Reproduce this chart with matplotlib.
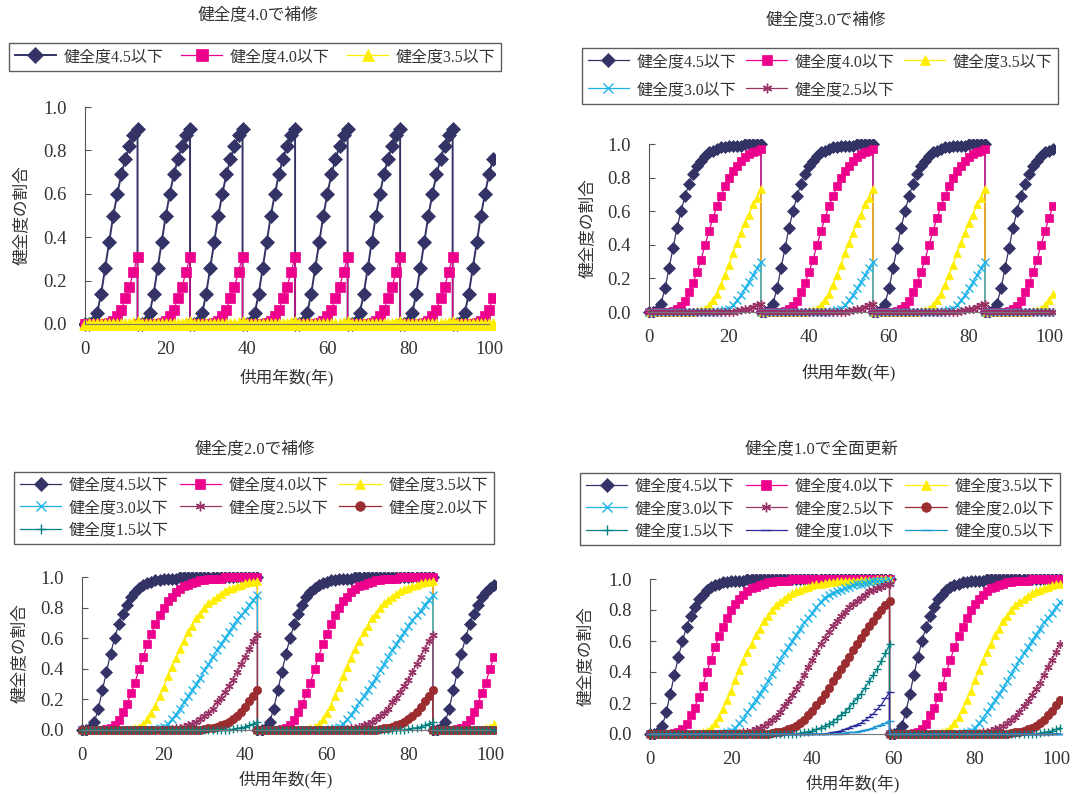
import numpy as np
import matplotlib
matplotlib.use("Agg")
import matplotlib.pyplot as plt

plt.rcParams['font.family'] = ['Liberation Serif', 'Noto Sans CJK JP']

# share of members at or below each grade, year 0..59 after a repair
g45 = [0, 0, 0.01, 0.05, 0.14, 0.26, 0.38, 0.50, 0.60, 0.69,
       0.76, 0.82, 0.87, 0.90, 0.93, 0.95, 0.96, 0.97, 0.98, 0.98,
       0.99, 0.99, 0.99, 0.99, 1.0, 1.0, 1.0, 1.0, 1.0, 1.0,
       1.0, 1.0, 1.0, 1.0, 1.0, 1.0, 1.0, 1.0, 1.0, 1.0,
       1.0, 1.0, 1.0, 1.0, 1.0, 1.0, 1.0, 1.0, 1.0, 1.0,
       1.0, 1.0, 1.0, 1.0, 1.0, 1.0, 1.0, 1.0, 1.0, 1.0]
g40 = [0, 0, 0, 0, 0, 0.002, 0.005, 0.015, 0.035, 0.065,
       0.12, 0.17, 0.24, 0.31, 0.40, 0.48, 0.56, 0.63, 0.69, 0.75,
       0.80, 0.84, 0.87, 0.90, 0.92, 0.94, 0.95, 0.96, 0.97, 0.98,
       0.98, 0.99, 0.99, 0.99, 0.99, 1.0, 1.0, 1.0, 1.0, 1.0,
       1.0, 1.0, 1.0, 1.0, 1.0, 1.0, 1.0, 1.0, 1.0, 1.0,
       1.0, 1.0, 1.0, 1.0, 1.0, 1.0, 1.0, 1.0, 1.0, 1.0]
g35 = [0, 0, 0, 0, 0, 0, 0, 0, 0, 0,
       0, 0, 0.005, 0.01, 0.02, 0.04, 0.07, 0.11, 0.16, 0.22,
       0.28, 0.35, 0.41, 0.47, 0.53, 0.58, 0.64, 0.68, 0.73, 0.76,
       0.80, 0.83, 0.85, 0.87, 0.89, 0.91, 0.92, 0.93, 0.94, 0.95,
       0.96, 0.965, 0.97, 0.975, 0.98, 0.98, 0.985, 0.985, 0.99, 0.99,
       0.99, 0.99, 0.995, 0.995, 0.995, 0.995, 1.0, 1.0, 1.0, 1.0]
g30 = [0, 0, 0, 0, 0, 0, 0, 0, 0, 0,
       0, 0, 0, 0, 0, 0, 0, 0, 0.005, 0.01,
       0.02, 0.04, 0.07, 0.10, 0.14, 0.18, 0.22, 0.26, 0.30, 0.34,
       0.39, 0.43, 0.48, 0.52, 0.56, 0.60, 0.64, 0.68, 0.72, 0.75,
       0.78, 0.82, 0.85, 0.88, 0.90, 0.91, 0.92, 0.93, 0.94, 0.95,
       0.96, 0.965, 0.97, 0.975, 0.98, 0.985, 0.99, 0.99, 0.99, 0.995]
g25 = [0, 0, 0, 0, 0, 0, 0, 0, 0, 0,
       0, 0, 0, 0, 0, 0, 0, 0, 0, 0,
       0, 0, 0.005, 0.01, 0.015, 0.02, 0.03, 0.04, 0.05, 0.07,
       0.09, 0.11, 0.14, 0.18, 0.21, 0.25, 0.29, 0.33, 0.38, 0.43,
       0.48, 0.53, 0.58, 0.62, 0.66, 0.70, 0.73, 0.76, 0.79, 0.82,
       0.84, 0.86, 0.88, 0.90, 0.92, 0.93, 0.94, 0.95, 0.96, 0.97]
g20 = [0, 0, 0, 0, 0, 0, 0, 0, 0, 0,
       0, 0, 0, 0, 0, 0, 0, 0, 0, 0,
       0, 0, 0, 0, 0, 0, 0, 0, 0, 0,
       0.005, 0.01, 0.015, 0.02, 0.03, 0.04, 0.05, 0.07, 0.09, 0.12,
       0.15, 0.19, 0.22, 0.26, 0.30, 0.34, 0.38, 0.42, 0.46, 0.50,
       0.54, 0.58, 0.62, 0.66, 0.70, 0.73, 0.77, 0.80, 0.83, 0.86]
g15 = [0, 0, 0, 0, 0, 0, 0, 0, 0, 0,
       0, 0, 0, 0, 0, 0, 0, 0, 0, 0,
       0, 0, 0, 0, 0, 0, 0, 0, 0, 0,
       0, 0, 0, 0, 0, 0, 0, 0.005, 0.01, 0.015,
       0.02, 0.03, 0.04, 0.05, 0.065, 0.08, 0.10, 0.12, 0.14, 0.17,
       0.20, 0.23, 0.26, 0.30, 0.34, 0.38, 0.42, 0.47, 0.52, 0.58]
g10 = [0, 0, 0, 0, 0, 0, 0, 0, 0, 0,
       0, 0, 0, 0, 0, 0, 0, 0, 0, 0,
       0, 0, 0, 0, 0, 0, 0, 0, 0, 0,
       0, 0, 0, 0, 0, 0, 0, 0, 0, 0,
       0, 0, 0, 0, 0.005, 0.01, 0.015, 0.02, 0.03, 0.04,
       0.05, 0.06, 0.07, 0.09, 0.11, 0.13, 0.16, 0.19, 0.23, 0.27]
g05 = [0, 0, 0, 0, 0, 0, 0, 0, 0, 0,
       0, 0, 0, 0, 0, 0, 0, 0, 0, 0,
       0, 0, 0, 0, 0, 0, 0, 0, 0, 0,
       0, 0, 0, 0, 0, 0, 0, 0, 0, 0,
       0, 0, 0, 0, 0, 0, 0, 0, 0.005, 0.01,
       0.01, 0.015, 0.02, 0.025, 0.03, 0.04, 0.05, 0.06, 0.07, 0.085]

curves = [g45, g40, g35, g30, g25, g20, g15, g10, g05]
labels = ['健全度4.5以下', '健全度4.0以下', '健全度3.5以下', '健全度3.0以下',
          '健全度2.5以下', '健全度2.0以下', '健全度1.5以下', '健全度1.0以下',
          '健全度0.5以下']
colors = ['#333366', '#EC008C', '#FFEE00', '#1EB4EA', '#993366',
          '#9B2D30', '#008080', '#2B2B9C', '#1B95D1']
markers = ['D', 's', '^', 'x', (6, 2, 0), 'o', '+', '_', '_']

titles = ['健全度4.0で補修', '健全度3.0で補修', '健全度2.0で補修', '健全度1.0で全面更新']
periods = [13, 28, 43, 59]
n_series = [3, 5, 7, 9]

W, H = 1092, 794
fig = plt.figure(figsize=(W / 100, H / 100), dpi=100)

# pixel layout: x of year 0, x of year 100, y of 1.0, y of 0.0, title, legend centre, ylabel x, xlabel y
layout = [
    dict(x0=85, x100=489, y1=107, y0=324, title=(258, 15), leg=(255, 57), ylab=22, xlab=378, ls=0.35, cs=1.1),
    dict(x0=649, x100=1049, y1=144, y0=312, title=(826, 20), leg=(820, 76), ylab=588, xlab=373, ls=0.75, cs=0.6),
    dict(x0=82, x100=490, y1=577, y0=730, title=(255, 449), leg=(254, 508), ylab=20, xlab=780, ls=0.4, cs=0.7),
    dict(x0=650, x100=1056, y1=579, y0=734, title=(822, 449), leg=(820, 509), ylab=586, xlab=784, ls=0.4, cs=0.7),
]

for p in range(4):
    L = layout[p]
    sx = (L['x100'] - L['x0']) / 100.0
    sy = (L['y0'] - L['y1'])
    xl, xr = -1.5, 101.5
    yb, yt = -0.03, 1.03
    left = L['x0'] + xl * sx
    right = L['x0'] + xr * sx
    top = L['y1'] - (yt - 1) * sy
    bottom = L['y0'] - yb * sy
    ax = fig.add_axes([left / W, 1 - bottom / H, (right - left) / W, (bottom - top) / H])

    P = periods[p]
    ms = 7 if p == 0 else 6
    for i in range(n_series[p]):
        xs, ys = [], []
        k = 0
        while k * P <= 101:
            for t in range(P + 1):
                x = k * P + t
                if x > 101:
                    break
                xs.append(x)
                ys.append(curves[i][t])
            k += 1
        lw = 1.4 if (p == 0 and i == 0) else 0.9
        mk = markers[i]
        ax.plot(xs, ys, color=colors[i], lw=lw, marker=mk,
                ms=ms + 1 if (p == 0 and i == 2) else ms,
                mew=1.0 if mk in ('x', '+', '_') or isinstance(mk, tuple) else 0.5,
                mec=colors[i], mfc=colors[i], label=labels[i])

    ax.set_xlim(xl, xr)
    ax.set_ylim(yb, yt)
    ax.spines['top'].set_visible(False)
    ax.spines['right'].set_visible(False)
    ax.spines['left'].set_position(('data', 0))
    ax.spines['left'].set_bounds(0, 1)
    ax.spines['left'].set_color('#555555')
    ax.spines['bottom'].set_position(('data', 0))
    ax.spines['bottom'].set_bounds(0, 100)
    ax.spines['bottom'].set_color('#777777')
    ax.set_xticks([0, 20, 40, 60, 80, 100])
    ax.set_yticks([0, 0.2, 0.4, 0.6, 0.8, 1.0])
    ax.set_yticklabels(['%.1f' % v for v in [0, 0.2, 0.4, 0.6, 0.8, 1.0]])
    ax.tick_params(axis='x', length=0, pad=12, labelsize=13.5, colors='#333333')
    ax.tick_params(axis='y', direction='in', length=4, pad=13, labelsize=13.5,
                   colors='#555555', labelcolor='#333333')
    ax.patch.set_alpha(0)

    fig.text(L['title'][0] / W, 1 - L['title'][1] / H, titles[p], ha='center', va='center',
             fontsize=12, color='#333333')
    fig.text(L['ylab'] / W, 1 - (L['y1'] + L['y0']) / 2 / H, '健全度の割合', rotation=90,
             ha='center', va='center', fontsize=12, color='#333333')
    fig.text((L['x0'] + L['x100']) / 2 / W, 1 - L['xlab'] / H, '供用年数(年)',
             ha='center', va='center', fontsize=12, color='#333333')

    # legend reads row by row, matplotlib fills column by column
    handles, labs = ax.get_legend_handles_labels()
    order = [j for c in range(3) for j in range(c, len(handles), 3)]
    leg = ax.legend([handles[j] for j in order], [labs[j] for j in order],
                    loc='center', bbox_to_anchor=(L['leg'][0] / W, 1 - L['leg'][1] / H),
                    bbox_transform=fig.transFigure, ncol=3, fontsize=11.5, frameon=True,
                    fancybox=False, edgecolor='#333333', handlelength=2.6, columnspacing=L['cs'],
                    handletextpad=0.45, borderpad=0.35, labelspacing=L['ls'], borderaxespad=0,
                    markerscale=1.15)
    leg.get_frame().set_linewidth(1.0)
    for txt in leg.get_texts():
        txt.set_color('#333333')

fig.savefig('out.png', dpi=100)
